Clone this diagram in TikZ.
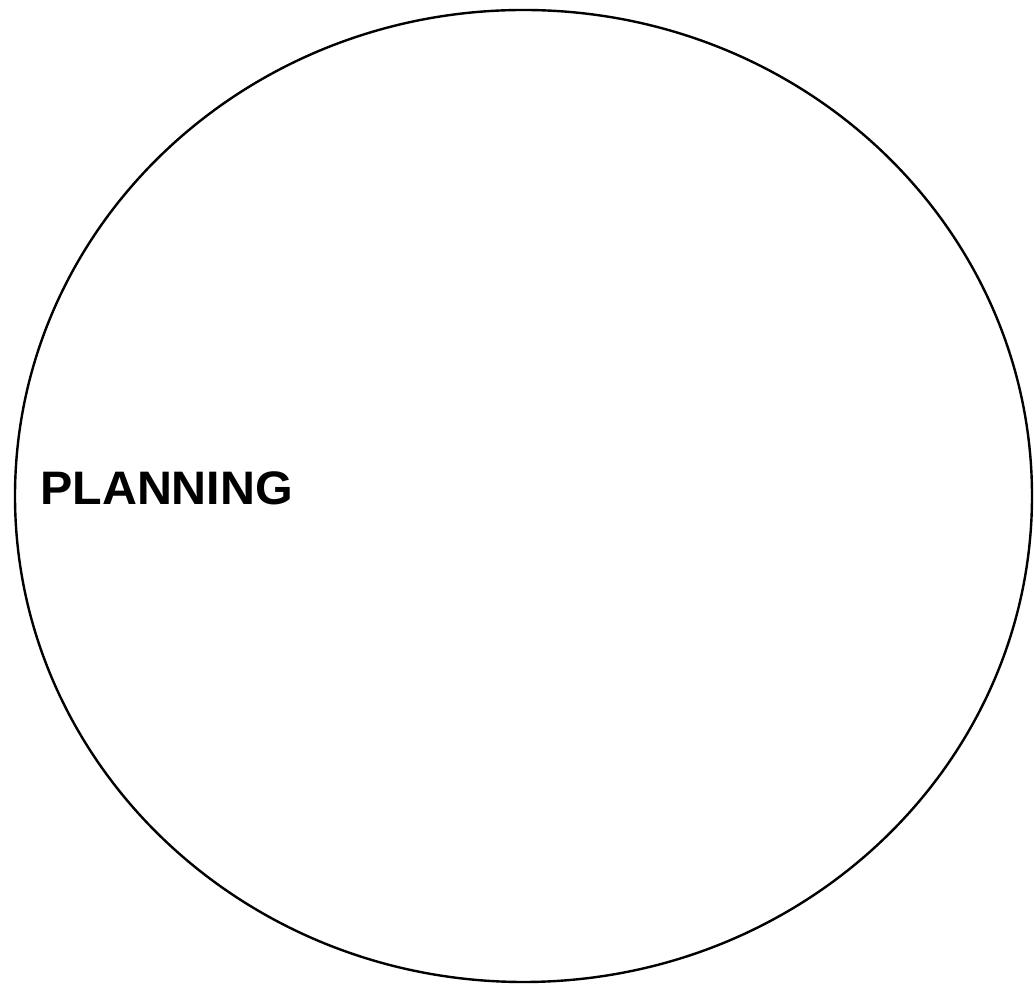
\documentclass[tikz,border=0pt]{standalone}
\usepackage{fontspec}
\setmainfont{Liberation Sans}
\begin{document}
\begin{tikzpicture}[x=1pt,y=1pt,
  outline/.style={draw=black,line width=2.4pt},
  label/.style={font=\bfseries\fontsize{47}{52}\selectfont,inner sep=0pt,anchor=base west}]
\useasboundingbox (0,0) rectangle (1034,985);
\draw[outline] (523.5,489) ellipse [x radius=508.5, y radius=486];
\node[label,xscale=1.03] (planning) at (40,480) {PLANNING};
\end{tikzpicture}
\end{document}
